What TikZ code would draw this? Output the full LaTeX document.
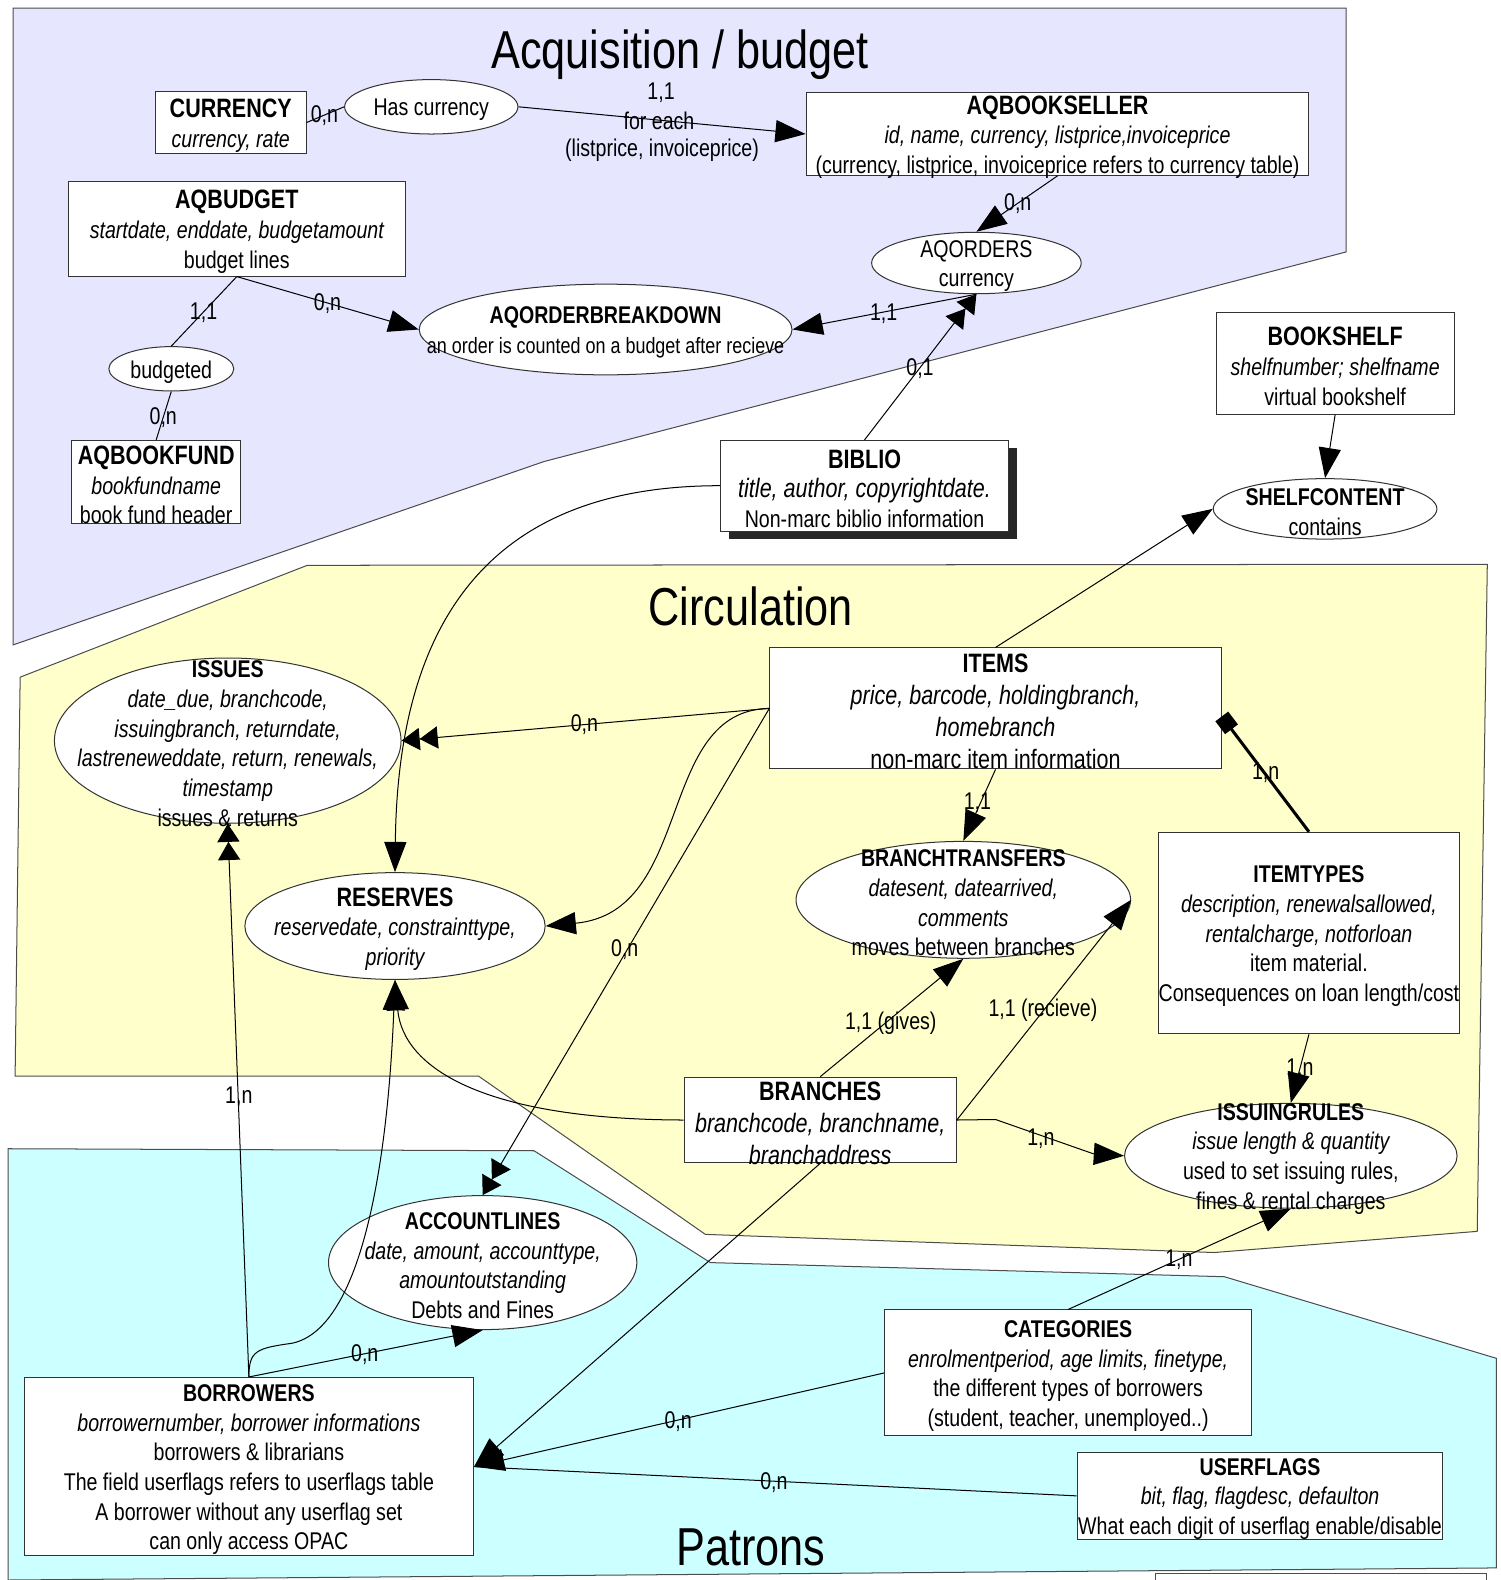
\documentclass[tikz,border=0pt]{standalone}
\usepackage{fontspec}
\setmainfont{Liberation Sans}[FakeStretch=0.81]
\usetikzlibrary{shapes.geometric,arrows.meta,shadows}

\definecolor{acqzone}{RGB}{230,230,255}
\definecolor{circzone}{RGB}{255,255,204}
\definecolor{patzone}{RGB}{204,255,255}

\newcommand{\nsz}{\fontsize{12pt}{14.7pt}\selectfont}
\newcommand{\bsz}{\fontsize{13.2pt}{15.8pt}\selectfont}
\newcommand{\hd}[1]{{\bsz\bfseries #1}}
\newcommand{\hs}[1]{{\bfseries #1}}
\newcommand{\att}[1]{{\itshape #1}}

\tikzset{
  tbl/.style={rectangle, draw=black!80, line width=.5pt, fill=white, inner sep=0pt},
  rel/.style={ellipse, draw=black!80, line width=.5pt, fill=white, inner sep=0pt},
  txt/.style={align=center, font=\nsz, inner sep=0pt, yshift=-1.5pt},
  card/.style={font=\nsz, inner sep=0pt},
  link/.style={draw=black, line width=.5pt},
  to1/.style={-{Triangle[length=15pt,width=11pt]}},
  to2/.style={-{Triangle[length=9pt,width=11pt]Triangle[length=9pt,width=11pt]}},
  zone/.style={draw=black!70, line width=.5pt},
  zonetitle/.style={font=\fontsize{26.5pt}{30pt}\selectfont, anchor=base, inner sep=0pt}
}

\begin{document}
\begin{tikzpicture}[x=.5pt,y=-.5pt]
  \useasboundingbox (0,0) rectangle (1489,1568);

  % zones
  \draw[zone,fill=acqzone] (13,8) -- (1336,8) -- (1336,250) -- (540,458) -- (13,640) -- cycle;
  \draw[zone,fill=circzone] (305,561) -- (1476,560) -- (1466,1222) -- (1205,1243) -- (700,1225)
    -- (475,1068) -- (15,1068) -- (20,672) -- cycle;
  \draw[zone,fill=patzone] (8,1140) -- (530,1142) -- (705,1253) -- (1215,1267) -- (1485,1348)
    -- (1485,1556) -- (8,1568) -- cycle;
  \draw[zone] (1147,1575) -- (1147,1562) -- (1475,1562) -- (1475,1575);

  \node[zonetitle] (tacq) at (675,68) {Acquisition / budget};
  \node[zonetitle] (tcirc) at (745,621) {Circulation};
  \node[zonetitle] (tpat) at (745,1554) {Patrons};

  % acquisition
  \node[tbl, minimum width=75pt, minimum height=30.5pt,
    label={[txt]center:{\hd{CURRENCY}\\\att{currency, rate}}}] (currency) at (229,121.5) {};
  \node[rel, minimum width=86pt, minimum height=27pt,
    label={[txt]center:Has currency}] (hascur) at (428,106) {};
  \node[tbl, minimum width=249.5pt, minimum height=41pt,
    label={[txt]center:{\hd{AQBOOKSELLER}\\\att{id, name, currency, listprice,invoiceprice}\\(currency, listprice, invoiceprice refers to currency table)}}] (bookseller) at (1049.5,133) {};
  \node[tbl, minimum width=167pt, minimum height=47pt,
    label={[txt]center:{\hd{AQBUDGET}\\\att{startdate, enddate, budgetamount}\\budget lines}}] (aqbudget) at (235,227) {};
  \node[rel, minimum width=104pt, minimum height=30.5pt,
    label={[txt]center:{AQORDERS\\currency}}] (aqorders) at (969,261) {};
  \node[rel, minimum width=185pt, minimum height=45pt,
    label={[txt]center:{\hs{AQORDERBREAKDOWN}\\{\fontsize{11pt}{12pt}\selectfont an order is counted on a budget after recieve}}}] (breakdown) at (601,327) {};
  \node[rel, minimum width=62pt, minimum height=22pt,
    label={[txt]center:budgeted}] (budgeted) at (170,366) {};
  \node[tbl, minimum width=84pt, minimum height=41.5pt,
    label={[txt]center:{\hd{AQBOOKFUND}\\\att{bookfundname}\\book fund header}}] (bookfund) at (155,478.5) {};
  \node[tbl, minimum width=143pt, minimum height=45pt,
    drop shadow={shadow xshift=4pt, shadow yshift=-4pt, fill=black!85, opacity=1},
    label={[txt]center:{\hd{BIBLIO}\\{\bsz\itshape title, author, copyrightdate.}\\Non-marc biblio information}}] (biblio) at (858,482) {};
  \node[tbl, minimum width=118pt, minimum height=50.5pt,
    label={[txt]center:{\hd{BOOKSHELF}\\\att{shelfnumber; shelfname}\\virtual bookshelf}}] (bookshelf) at (1325,360.5) {};
  \node[rel, minimum width=111pt, minimum height=30pt,
    label={[txt]center:{\hs{SHELFCONTENT}\\contains}}] (shelfcontent) at (1315,505) {};

  % circulation
  \node[rel, minimum width=172pt, minimum height=82pt,
    label={[txt]center:{\hs{ISSUES}\\\att{date\_due, branchcode,}\\\att{issuingbranch, returndate,}\\\att{lastreneweddate, return, renewals,}\\\att{timestamp}\\issues \& returns}}] (issues) at (226,735) {};
  \node[tbl, minimum width=224pt, minimum height=60pt,
    label={[txt,font=\bsz]center:{\hs{ITEMS}\\\att{price, barcode, holdingbranch,}\\\att{homebranch}\\non-marc item information}}] (items) at (988,703) {};
  \node[rel, minimum width=149pt, minimum height=53pt,
    label={[txt]center:{\hd{RESERVES}\\\att{reservedate, constrainttype,}\\\att{priority}}}] (reserves) at (392,919) {};
  \node[rel, minimum width=166pt, minimum height=58pt,
    label={[txt]center:{\hs{BRANCHTRANSFERS}\\\att{datesent, datearrived,}\\\att{comments}\\moves between branches}}] (transfers) at (956,893) {};
  \node[tbl, minimum width=149pt, minimum height=100pt,
    label={[txt]center:{\hs{ITEMTYPES}\\\att{description, renewalsallowed,}\\\att{rentalcharge, notforloan}\\item material.\\Consequences on loan length/cost}}] (itemtypes) at (1299,926) {};
  \node[tbl, minimum width=135pt, minimum height=42.5pt,
    label={[txt,font=\bsz]center:{\hs{BRANCHES}\\\att{branchcode, branchname,}\\\att{branchaddress}}}] (branches) at (814,1111.5) {};
  \node[rel, minimum width=165pt, minimum height=52pt,
    label={[txt]center:{\hs{ISSUINGRULES}\\\att{issue length \& quantity}\\used to set issuing rules,\\fines \& rental charges}}] (rules) at (1281,1147) {};

  % patrons
  \node[rel, minimum width=153pt, minimum height=66.5pt,
    label={[txt]center:{\hs{ACCOUNTLINES}\\\att{date, amount, accounttype,}\\\att{amountoutstanding}\\Debts and Fines}}] (accountlines) at (479,1253) {};
  \node[tbl, minimum width=182pt, minimum height=62.5pt,
    label={[txt]center:{\hs{CATEGORIES}\\\att{enrolmentperiod, age limits, finetype,}\\the different types of borrowers\\(student, teacher, unemployed..)}}] (categories) at (1060,1362.5) {};
  \node[tbl, minimum width=223pt, minimum height=88.5pt,
    label={[txt]center:{\hs{BORROWERS}\\\att{borrowernumber, borrower informations}\\borrowers \& librarians\\The field userflags refers to userflags table\\A borrower without any userflag set\\can only access OPAC}}] (borrowers) at (247,1455.5) {};
  \node[tbl, minimum width=181.5pt, minimum height=43.5pt,
    label={[txt]center:{\hs{USERFLAGS}\\\att{bit, flag, flagdesc, defaulton}\\What each digit of userflag enable/disable}}] (userflags) at (1250.5,1484.5) {};

  % links
  \coordinate (bk1) at (988,1111);
  \coordinate (bk2) at (1085,1145);
  \draw[link] (currency.east) -- (hascur.west);
  \draw[link,to1] (hascur.east) -- (bookseller.west);
  \draw[link,to1] (bookseller.south) -- (aqorders.north);
  \draw[link,to1] (aqorders.south) -- (breakdown.east);
  \draw[link,to1] (aqbudget.south) -- (breakdown.west);
  \draw[link] (aqbudget.south) -- (budgeted.north);
  \draw[link] (budgeted.south) -- (bookfund.north);
  \draw[link,to2] (biblio.north) -- (aqorders.south);
  \draw[link,to1] (biblio.west) .. controls (500,482) and (395,600) .. (reserves.north);
  \draw[link,to2] (items.west) -- (issues.east);
  \draw[link,to1] (items.west) .. controls (650,705) and (690,905) .. (reserves.east);
  \draw[link,to2] (items.west) -- (accountlines.north);
  \draw[link,to1] (items.north) -- (shelfcontent.west);
  \draw[link,to1] (bookshelf.south) -- (shelfcontent.north);
  \draw[link,to1] (items.south) -- (transfers.north);
  \draw[link,line width=1.5pt,-{Square[length=8pt,width=8pt]}] (itemtypes.north) -- ([yshift=-4pt]items.east);
  \draw[link,to1] (itemtypes.south) -- (rules.north);
  \draw[link,to1] (branches.north) -- (transfers.south);
  \draw[link,to1] (branches.east) -- (transfers.east);
  \draw[link,to1] (branches.east) -- (bk1) -- (bk2) -- (rules.west);
  \draw[link,to1] (branches.west) .. controls (480,1111) and (400,1060) .. (reserves.south);
  \draw[link,to1] (branches.south) -- (borrowers.east);
  \draw[link,to2] (borrowers.north) -- (issues.south);
  \draw[link,to1] (borrowers.north) .. controls (247,1340) and (255,1338) .. (290,1333)
    .. controls (360,1318) and (385,1150) .. (reserves.south);
  \draw[link,to1] (borrowers.north) -- (accountlines.south);
  \draw[link,to1] (categories.west) -- (borrowers.east);
  \draw[link] (userflags.west) -- (borrowers.east);
  \draw[link,to1] (categories.north) -- (rules.south);

  % cardinalities
  \node[card] (ccur) at (322,115) {0,n};
  \node[card] (csel1) at (656,92) {1,1};
  \node[card] (csel2) at (654,120) {for each};
  \node[card] (csel3) at (657,149) {(listprice, invoiceprice)};
  \node[card] (cord) at (1010,202) {0,n};
  \node[card] (cbrk) at (877,311) {1,1};
  \node[card] (cbud) at (325,301) {0,n};
  \node[card] (cbdg1) at (202,310) {1,1};
  \node[card] (cbdg2) at (162,414) {0,n};
  \node[card] (cbib) at (913,366) {0,1};
  \node[card] (ciss) at (580,719) {0,n};
  \node[card] (cacc) at (620,942) {0,n};
  \node[card] (ctrf) at (970,797) {1,1};
  \node[card] (ctyp) at (1256,767) {1,n};
  \node[card] (crul) at (1290,1061) {1,n};
  \node[card] (cgiv) at (884,1015) {1,1 (gives)};
  \node[card] (crec) at (1035,1003) {1,1 (recieve)};
  \node[card] (cbrr) at (1033,1130) {1,n};
  \node[card] (cbis) at (237,1088) {1,n};
  \node[card] (cbac) at (362,1344) {0,n};
  \node[card] (ccat) at (673,1411) {0,n};
  \node[card] (cflg) at (768,1471) {0,n};
  \node[card] (ccrl) at (1170,1250) {1,n};
\end{tikzpicture}
\end{document}
